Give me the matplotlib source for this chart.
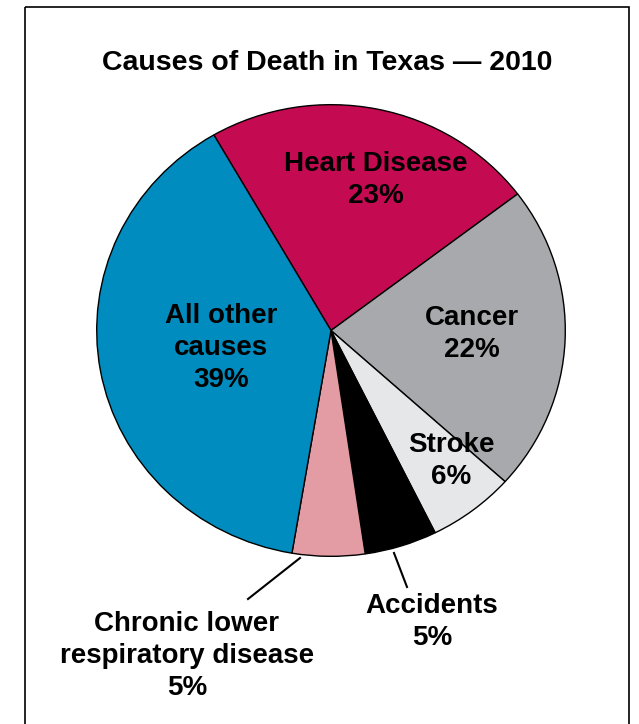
import matplotlib
matplotlib.use("Agg")
import matplotlib.pyplot as plt
from matplotlib.patches import Rectangle

plt.rcParams['font.family'] = ['Liberation Sans', 'DejaVu Sans']

# data
causes = ["Heart Disease", "Cancer", "Stroke", "Accidents",
          "Chronic lower\nrespiratory disease", "All other\ncauses"]
shares = [23, 22, 6, 5, 5, 39]
colors = ["#C40A50", "#A8A9AC", "#E6E7E9", "#000000", "#E49CA4", "#008CBE"]

W, H = 639, 724
fig = plt.figure(figsize=(W / 100, H / 100), dpi=100)

# pie axes (pixel box of the pie)
px0, px1, py0, py1 = 96, 566, 104, 557
pie_ax = fig.add_axes([px0 / W, 1 - py1 / H, (px1 - px0) / W, (py1 - py0) / H])
pie_ax.pie(shares, colors=colors, startangle=120, counterclock=False, radius=1,
           wedgeprops=dict(edgecolor="black", linewidth=1.0))
pie_ax.set_aspect("auto")
pie_ax.set_xlim(-1.003, 1.003)
pie_ax.set_ylim(-1.003, 1.003)
pie_ax.axis("off")

# overlay axes in pixel coordinates for frame, title, labels
bg = fig.add_axes([0, 0, 1, 1], zorder=5)
bg.set_xlim(0, W)
bg.set_ylim(H, 0)
bg.patch.set_alpha(0)
bg.axis("off")

bg.add_patch(Rectangle((25, 7), 604, 740, fill=False, edgecolor="black", linewidth=1.2))

bg.text(327, 63, "Causes of Death in Texas \u2014 2010", ha="center", va="center",
        fontsize=20.5, fontweight="bold")

lab = dict(ha="center", va="center", fontsize=20, fontweight="bold", linespacing=1.3)
bg.text(376, 180, f"{causes[0]}\n{shares[0]}%", **lab)
bg.text(472, 334, f"{causes[1]}\n{shares[1]}%", **lab)
bg.text(451, 461, f"{causes[2]}\n{shares[2]}%", **lab)
bg.text(432, 622, f"{causes[3]}\n{shares[3]}%", **lab)
bg.text(187, 656, f"{causes[4]}\n{shares[4]}%", **lab)
bg.text(221, 348, f"{causes[5]}\n{shares[5]}%", **lab)

# leader lines
bg.plot([300, 248], [558, 599], color="black", linewidth=1.5)
bg.plot([394, 407], [553, 587], color="black", linewidth=1.5)

fig.savefig("out.png", dpi=100)
